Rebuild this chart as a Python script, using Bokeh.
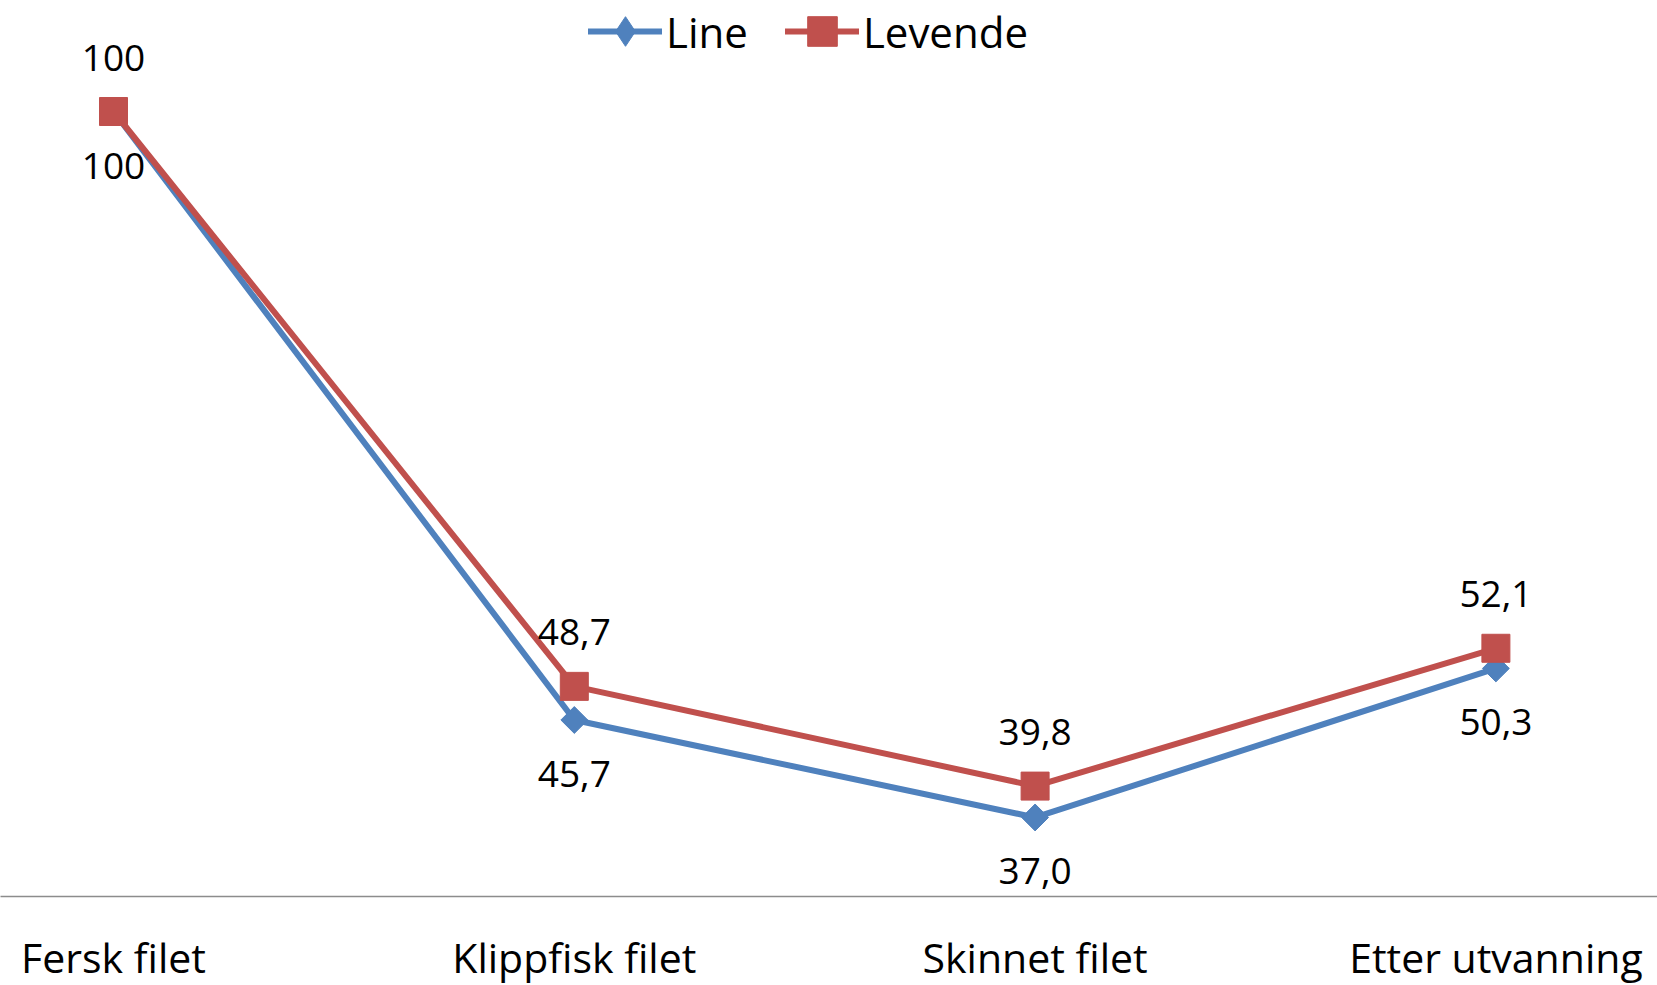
from bokeh.plotting import figure
from bokeh.models import ColumnDataSource, FixedTicker, Range1d, Legend, LegendItem, CDSView, IndexFilter
from bokeh.core.properties import value
from bokeh.embed import file_html
from bokeh.resources import INLINE
import math

categories = ["Fersk filet", "Klippfisk filet", "Skinnet filet", "Etter utvanning"]
line_values = [100, 45.7, 37.0, 50.3]
levende_values = [100, 48.7, 39.8, 52.1]
line_labels = ["100", "45,7", "37,0", "50,3"]
levende_labels = ["100", "48,7", "39,8", "52,1"]

BLUE = "#4F81BD"
RED = "#C0504D"
FONT = "Open Sans"

x = list(range(len(categories)))
src_line = ColumnDataSource(dict(x=x, y=line_values, lab=line_labels))
src_lev = ColumnDataSource(dict(x=x, y=levende_values, lab=levende_labels))

FW, FH = 1657, 896
p = figure(frame_width=FW, frame_height=FH, output_backend="svg", toolbar_location=None,
           x_range=Range1d(-113 / 460.8, (FW - 113) / 460.8),
           y_range=Range1d(100 - 785 / 11.206, 100 + 111 / 11.206),
           y_axis_location=None, min_border=0, min_border_bottom=89)
p.outline_line_color = None
p.grid.visible = False
p.background_fill_color = "white"

l1 = p.line("x", "y", source=src_line, line_color=BLUE, line_width=6,
            line_join="round", line_cap="round")
m1 = p.scatter("x", "y", source=src_line, marker="square", size=19, angle=math.pi / 4,
               fill_color=BLUE, line_color=BLUE)
# diamond used for the legend entry (drawn at the first point, hidden under the red square)
m1_leg = p.scatter("x", "y", source=src_line, view=CDSView(filter=IndexFilter([0])),
                   marker="diamond", size=18, fill_color=BLUE, line_color=BLUE)
l2 = p.line("x", "y", source=src_lev, line_color=RED, line_width=6,
            line_join="round", line_cap="round")
m2 = p.scatter("x", "y", source=src_lev, marker="square", size=28,
               fill_color=RED, line_color=RED)

p.text("x", "y", text="lab", source=src_line, text_align="center", text_baseline="middle",
       y_offset=54, text_font=value(FONT), text_font_size="37px", text_color="black")
p.text("x", "y", text="lab", source=src_lev, text_align="center", text_baseline="middle",
       y_offset=-54, text_font=value(FONT), text_font_size="37px", text_color="black")

ax = p.xaxis[0]
ax.ticker = FixedTicker(ticks=x)
ax.major_label_overrides = {i: c for i, c in enumerate(categories)}
ax.major_tick_line_color = None
ax.minor_tick_line_color = None
ax.axis_line_color = "#8C8C8C"
ax.axis_line_width = 1.5
ax.major_label_text_font = FONT
ax.major_label_text_font_size = "41px"
ax.major_label_text_color = "black"
ax.major_label_standoff = 26

GH = 76
legend = Legend(items=[LegendItem(label="Line", renderers=[l1, m1_leg]),
                       LegendItem(label="Levende", renderers=[l2, m2])],
                orientation="horizontal", location=(588, FH - 31 - GH // 2),
                padding=0, margin=0, spacing=37, label_standoff=4,
                glyph_width=74, glyph_height=GH, label_height=GH,
                label_text_font=FONT, label_text_font_size="42px", label_text_color="black",
                border_line_alpha=0, background_fill_alpha=0)
p.add_layout(legend, "center")

open("out.html", "w").write(file_html(p, INLINE))
